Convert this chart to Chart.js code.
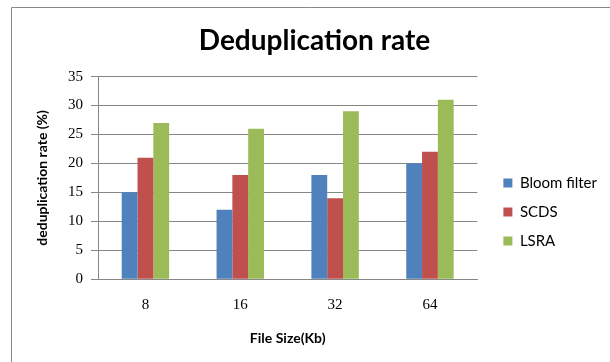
<!DOCTYPE html>
<html>
<head>
<meta charset="utf-8">
<script src="https://cdn.jsdelivr.net/npm/chart.js@4"></script>
<style>
html,body{margin:0;padding:0;background:#fff;}
#wrap{position:relative;width:610px;height:362px;}
</style>
</head>
<body>
<div id="wrap"><canvas id="c" width="610" height="362"></canvas></div>
<script>
const categories = ['8', '16', '32', '64'];
const bloomFilter = [15, 12, 18, 20];
const scds = [21, 18, 14, 22];
const lsra = [27, 26, 29, 31];
const seriesNames = ['Bloom filter', 'SCDS', 'LSRA'];
const yTicks = [0, 5, 10, 15, 20, 25, 30, 35];

const sans = 'Lato, "Open Sans", sans-serif';
const serif = '"Liberation Serif", "Times New Roman", serif';

const framePlugin = {
  id: 'frame',
  beforeDraw(chart) {
    const ctx = chart.ctx;
    ctx.save();
    ctx.fillStyle = '#fff';
    ctx.fillRect(0, 0, chart.width, chart.height);
    ctx.strokeStyle = '#888888';
    ctx.lineWidth = 1;
    ctx.beginPath();
    ctx.moveTo(11.5, chart.height);
    ctx.lineTo(11.5, 7.5);
    ctx.lineTo(chart.width, 7.5);
    ctx.stroke();
    ctx.restore();
  }
};

// leaves a gap between the plot area and the legend, as in the original
const legendGapPlugin = {
  id: 'legendGap',
  afterLayout(chart) {
    const lg = chart.legend;
    if (lg) { lg.left += 12; lg.right += 12; }
  }
};

new Chart(document.getElementById('c'), {
  type: 'bar',
  data: {
    labels: categories,
    datasets: [
      { label: seriesNames[0], data: bloomFilter, backgroundColor: '#4F81BD' },
      { label: seriesNames[1], data: scds, backgroundColor: '#C0504D' },
      { label: seriesNames[2], data: lsra, backgroundColor: '#9BBB59' }
    ]
  },
  options: {
    responsive: false,
    animation: false,
    devicePixelRatio: 1,
    layout: { padding: { left: 34, right: 15, top: 0, bottom: 15 } },
    datasets: { bar: { barPercentage: 1, categoryPercentage: 0.5 } },
    plugins: {
      title: {
        display: true,
        text: 'Deduplication rate',
        color: '#000',
        font: { family: sans, size: 28, weight: 'bold' },
        padding: { top: 24, bottom: 19 }
      },
      legend: {
        position: 'right',
        title: { display: true, text: ' ', font: { size: 10 }, padding: { top: 65, bottom: 0 } },
        labels: {
          boxWidth: 9,
          boxHeight: 9,
          padding: 14,
          color: '#000',
          font: { family: sans, size: 15 }
        }
      },
      tooltip: { enabled: false }
    },
    scales: {
      x: {
        grid: { display: false },
        border: { display: true, color: '#868686', width: 1 },
        ticks: { color: '#000', font: { family: serif, size: 15 }, padding: 9 },
        title: {
          display: true, text: 'File Size(Kb)', color: '#000',
          font: { family: sans, size: 14, weight: 'bold' },
          padding: { top: 7, bottom: 0 }
        }
      },
      y: {
        min: 0, max: 35,
        afterBuildTicks(scale) { scale.ticks = yTicks.map(v => ({ value: v })); },
        afterFit(scale) { scale.width = 64; },
        grid: { color: '#868686', tickLength: 7, drawTicks: true },
        border: { display: true, color: '#868686', width: 1 },
        ticks: { color: '#000', font: { family: serif, size: 15 }, padding: 8 },
        title: {
          display: true, text: 'deduplication rate (%)', color: '#000',
          font: { family: sans, size: 14, weight: 'bold' },
          padding: { top: 0, bottom: 12 }
        }
      }
    }
  },
  plugins: [framePlugin, legendGapPlugin]
});
</script>
</body>
</html>
